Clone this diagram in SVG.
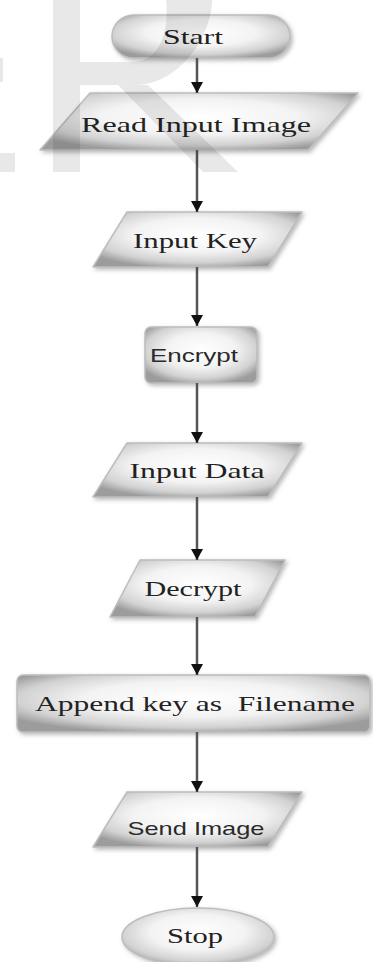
<svg xmlns="http://www.w3.org/2000/svg" width="373" height="962" viewBox="0 0 373 962">
<defs>
<radialGradient id="g" cx="50%" cy="42%" r="62%">
<stop offset="0" stop-color="#ffffff"/>
<stop offset="0.5" stop-color="#f3f3f3"/>
<stop offset="0.8" stop-color="#d2d2d2"/>
<stop offset="1" stop-color="#9c9c9c"/>
</radialGradient>
<filter id="sh" x="-10%" y="-20%" width="125%" height="150%">
<feGaussianBlur in="SourceAlpha" stdDeviation="2"/>
<feOffset dx="2" dy="2" result="b"/>
<feFlood flood-color="#808080" flood-opacity="0.55"/>
<feComposite in2="b" operator="in"/>
<feMerge><feMergeNode/><feMergeNode in="SourceGraphic"/></feMerge>
</filter>
<marker id="ah" markerUnits="userSpaceOnUse" markerWidth="14" markerHeight="12" refX="11" refY="6" orient="auto">
<path d="M0,0 L11,6 L0,12 Z" fill="#111"/>
</marker>
</defs>
<style>
.shape{fill:url(#g);stroke:#bdbdbd;stroke-width:1.5;stroke-linejoin:round;filter:url(#sh)}
.serif{font-family:"Liberation Serif","Times New Roman",serif;font-size:21px;fill:#222;text-anchor:middle;white-space:pre}
.sans{font-family:"Liberation Sans",Arial,sans-serif;font-size:19px;fill:#2a2a2a;text-anchor:middle}
.conn line{stroke:#555;stroke-width:2.5;marker-end:url(#ah)}
.wm{fill:#000;fill-opacity:0.09}
</style>
<rect width="373" height="962" fill="#fff"/>

<g id="start">
<rect class="shape" x="112" y="15" width="178" height="43" rx="21.5"/>
<text class="serif" x="193" y="44" textLength="60" lengthAdjust="spacingAndGlyphs">Start</text>
</g>
<g id="read-input-image">
<polygon class="shape" points="90,93 358,93 308,150 40,150"/>
<text class="serif" x="196" y="132" textLength="230" lengthAdjust="spacingAndGlyphs">Read Input Image</text>
</g>
<g id="input-key">
<polygon class="shape" points="127,212 302,212 268,267 93,267"/>
<text class="serif" x="195" y="248" textLength="124" lengthAdjust="spacingAndGlyphs">Input Key</text>
</g>
<g id="encrypt">
<rect class="shape" x="145" y="327" width="112" height="56" rx="6"/>
<text class="sans" x="194" y="362" textLength="88" lengthAdjust="spacingAndGlyphs">Encrypt</text>
</g>
<g id="input-data">
<polygon class="shape" points="127,443 302,443 268,497 93,497"/>
<text class="serif" x="197" y="478" textLength="135" lengthAdjust="spacingAndGlyphs">Input Data</text>
</g>
<g id="decrypt">
<polygon class="shape" points="140,560 285,560 255,617 110,617"/>
<text class="serif" x="193" y="596" textLength="97" lengthAdjust="spacingAndGlyphs">Decrypt</text>
</g>
<g id="append">
<rect class="shape" x="17" y="675" width="353" height="57" rx="6"/>
<text class="serif" x="195" y="711" textLength="320" lengthAdjust="spacingAndGlyphs" xml:space="preserve">Append key as  Filename</text>
</g>
<g id="send-image">
<polygon class="shape" points="127,792 302,792 268,847 93,847"/>
<text class="sans" x="196" y="835" textLength="137" lengthAdjust="spacingAndGlyphs">Send Image</text>
</g>
<g id="stop">
<ellipse class="shape" cx="198" cy="937" rx="76" ry="29"/>
<text class="serif" x="195" y="943" textLength="56" lengthAdjust="spacingAndGlyphs">Stop</text>
</g>

<g id="connectors" class="conn">
<line x1="197" y1="58" x2="197" y2="93"/>
<line x1="197" y1="150" x2="197" y2="212"/>
<line x1="197" y1="267" x2="197" y2="326"/>
<line x1="197" y1="383" x2="197" y2="443"/>
<line x1="197" y1="497" x2="197" y2="560"/>
<line x1="197" y1="617" x2="197" y2="675"/>
<line x1="197" y1="732" x2="197" y2="792"/>
<line x1="197" y1="847" x2="197" y2="907"/>
</g>

<g id="watermark" class="wm">
<rect x="0" y="58" width="3" height="24"/>
<rect x="0" y="153" width="15" height="19"/>
<rect x="53" y="0" width="27" height="172"/>
<path fill-rule="evenodd" d="M80,0 H212 C212,35 180,85 135,85 H80 Z M80,0 H166 C170,40 155,62 132,62 H80 Z"/>
<polygon points="118,85 148,85 238,172 203,172"/>
</g>
</svg>
